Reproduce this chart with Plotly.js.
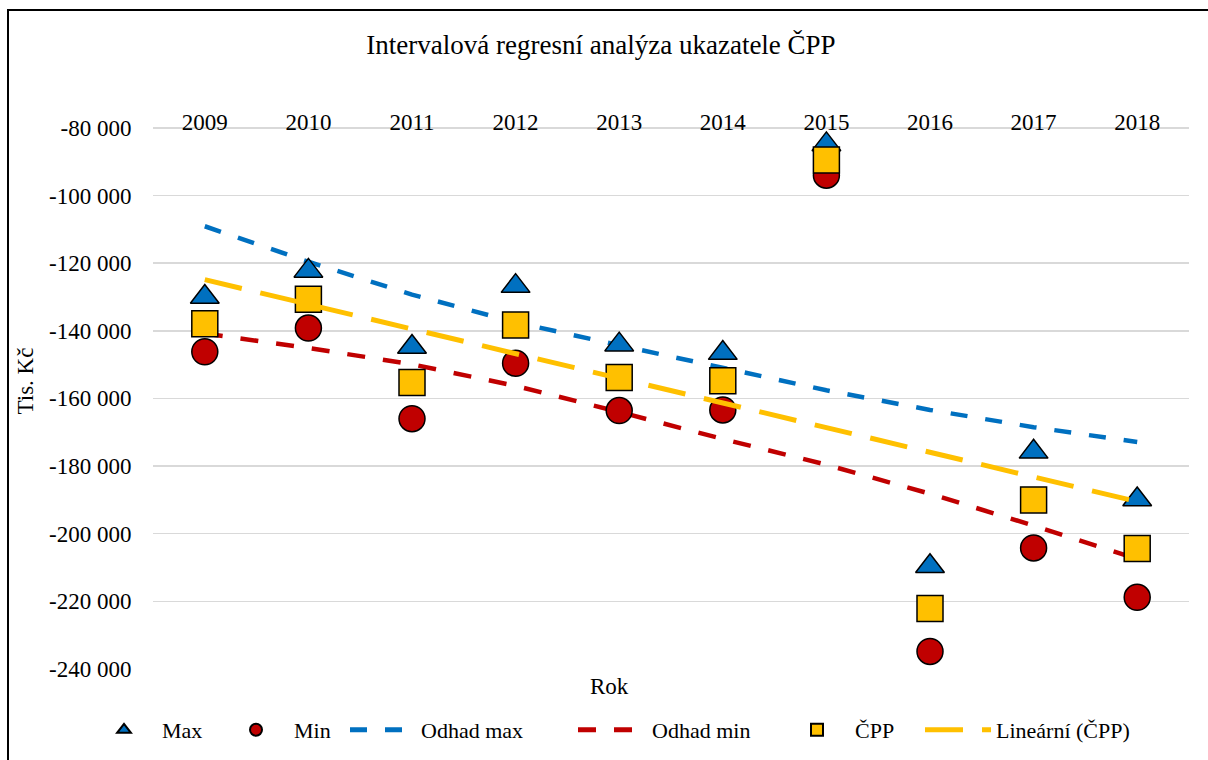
<!DOCTYPE html>
<html>
<head>
<meta charset="utf-8">
<script src="https://cdn.plot.ly/plotly-3.0.1.min.js"></script>
<style>
  html, body { margin: 0; padding: 0; background: #fff; overflow: hidden; width: 1208px; height: 760px; }
  #frame { position: absolute; left: 7px; top: 9px; width: 1400px; height: 900px; border: 2px solid #000; box-sizing: border-box; }
  #chart { position: absolute; left: 0; top: 0; width: 1208px; height: 760px; }
</style>
</head>
<body>
<div id="frame"></div>
<div id="chart"></div>
<script>
// ---- data ----
const years = ['2009', '2010', '2011', '2012', '2013', '2014', '2015', '2016', '2017', '2018'];
const maxVals = [-130000, -122300, -144800, -126800, -144100, -146600, -84900, -209600, -175800, -189900];
const minVals = [-146200, -139200, -166000, -149600, -163600, -163400, -94000, -234800, -204200, -218800];
const cppVals = [-137900, -130700, -155300, -138300, -153800, -154800, -89500, -222100, -190000, -204400];
const odhadMaxVals = [-109100, -119600, -129300, -137500, -144300, -150800, -157600, -163400, -168500, -172900];
const odhadMinVals = [-140800, -145100, -149900, -156300, -164000, -172000, -179600, -188200, -197600, -207500];
const trendYears = ['2009', '2018'];
const trendVals = [-124900, -190500];
const yTickVals = [-70000, -80000, -100000, -120000, -140000, -160000, -180000, -200000, -220000, -240000];
const yTickLabels = ['', '-80 000', '-100 000', '-120 000', '-140 000', '-160 000', '-180 000', '-200 000', '-220 000', '-240 000'];

const FONT = "'Liberation Serif', 'Times New Roman', 'DejaVu Serif', serif";
const BLUE = '#0070C0', RED = '#C00000', GOLD = '#FFC000';
const W = 1208, H = 760;

function legendAt(px, itemw) {
  return {
    x: px / W, xref: 'container', xanchor: 'left',
    y: 1 - 730 / H, yref: 'container', yanchor: 'middle',
    orientation: 'h', bgcolor: 'rgba(0,0,0,0)', borderwidth: 0,
    itemsizing: 'constant', itemwidth: itemw,
    font: { family: FONT, size: 22, color: '#000' }
  };
}

const traces = [
  { type: 'scatter', mode: 'lines', name: 'Odhad max', x: years, y: odhadMaxVals,
    line: { color: BLUE, width: 4.5, dash: '17px,18px' }, legend: 'legend3' },
  { type: 'scatter', mode: 'lines', name: 'Odhad min', x: years, y: odhadMinVals,
    line: { color: RED, width: 4.5, dash: '18px,18px' }, legend: 'legend4' },
  { type: 'scatter', mode: 'markers', name: 'Max', x: years, y: maxVals,
    marker: { symbol: 'triangle-up', size: 25, color: BLUE, line: { color: '#000', width: 1.5 } }, legend: 'legend' },
  { type: 'scatter', mode: 'markers', name: 'Min', x: years, y: minVals,
    marker: { symbol: 'circle', size: 26, color: RED, line: { color: '#000', width: 1.5 } }, legend: 'legend2' },
  { type: 'scatter', mode: 'markers', name: 'ČPP', x: years, y: cppVals,
    marker: { symbol: 'square', size: 26, color: GOLD, line: { color: '#000', width: 1.5 } }, legend: 'legend5' },
  { type: 'scatter', mode: 'lines', name: 'Lineární (ČPP)', x: trendYears, y: trendVals,
    line: { color: GOLD, width: 5, dash: '38px,19px' }, legend: 'legend6' }
];

const layout = {
  width: W, height: H,
  margin: { l: 153, r: 19, t: 94, b: 91 },
  paper_bgcolor: 'rgba(0,0,0,0)', plot_bgcolor: 'rgba(0,0,0,0)',
  font: { family: FONT, size: 23, color: '#000' },
  title: { text: 'Intervalová regresní analýza ukazatele ČPP', xref: 'container', x: 601 / W,
           yref: 'container', y: 1 - 45 / H, xanchor: 'center', yanchor: 'middle',
           font: { family: FONT, size: 27, color: '#000' } },
  xaxis: {
    type: 'category', categoryorder: 'array', categoryarray: years, range: [-0.5, 9.5],
    side: 'bottom', anchor: 'free', position: 0.98,
    showline: false, showgrid: false, ticks: '',
    tickfont: { family: FONT, size: 23, color: '#000' }
  },
  yaxis: {
    range: [-240000, -70000], tickvals: yTickVals, ticktext: yTickLabels,
    showgrid: true, gridcolor: '#d9d9d9', gridwidth: 1.5, zeroline: false, showline: false,
    ticks: 'outside', ticklen: 16, tickcolor: 'rgba(0,0,0,0)',
    tickfont: { family: FONT, size: 23, color: '#000' }
  },
  annotations: [
    { text: 'Tis. Kč', xref: 'paper', x: (25 - 153) / 1036, yref: 'paper', y: 0.5, textangle: -90,
      showarrow: false, xanchor: 'center', yanchor: 'middle', font: { family: FONT, size: 23, color: '#000' } },
    { text: 'Rok', xref: 'paper', x: (609 - 153) / 1036, yref: 'paper', y: (669 - 686) / 575,
      showarrow: false, xanchor: 'center', yanchor: 'middle', font: { family: FONT, size: 23, color: '#000' } }
  ],
  legend: legendAt(86, 66),
  legend2: legendAt(218, 66),
  legend3: legendAt(345, 66),
  legend4: legendAt(573, 69),
  legend5: legendAt(779, 66),
  legend6: legendAt(920, 66),
  showlegend: true
};

Plotly.newPlot('chart', traces, layout, { staticPlot: true, displayModeBar: false });
</script>
</body>
</html>
